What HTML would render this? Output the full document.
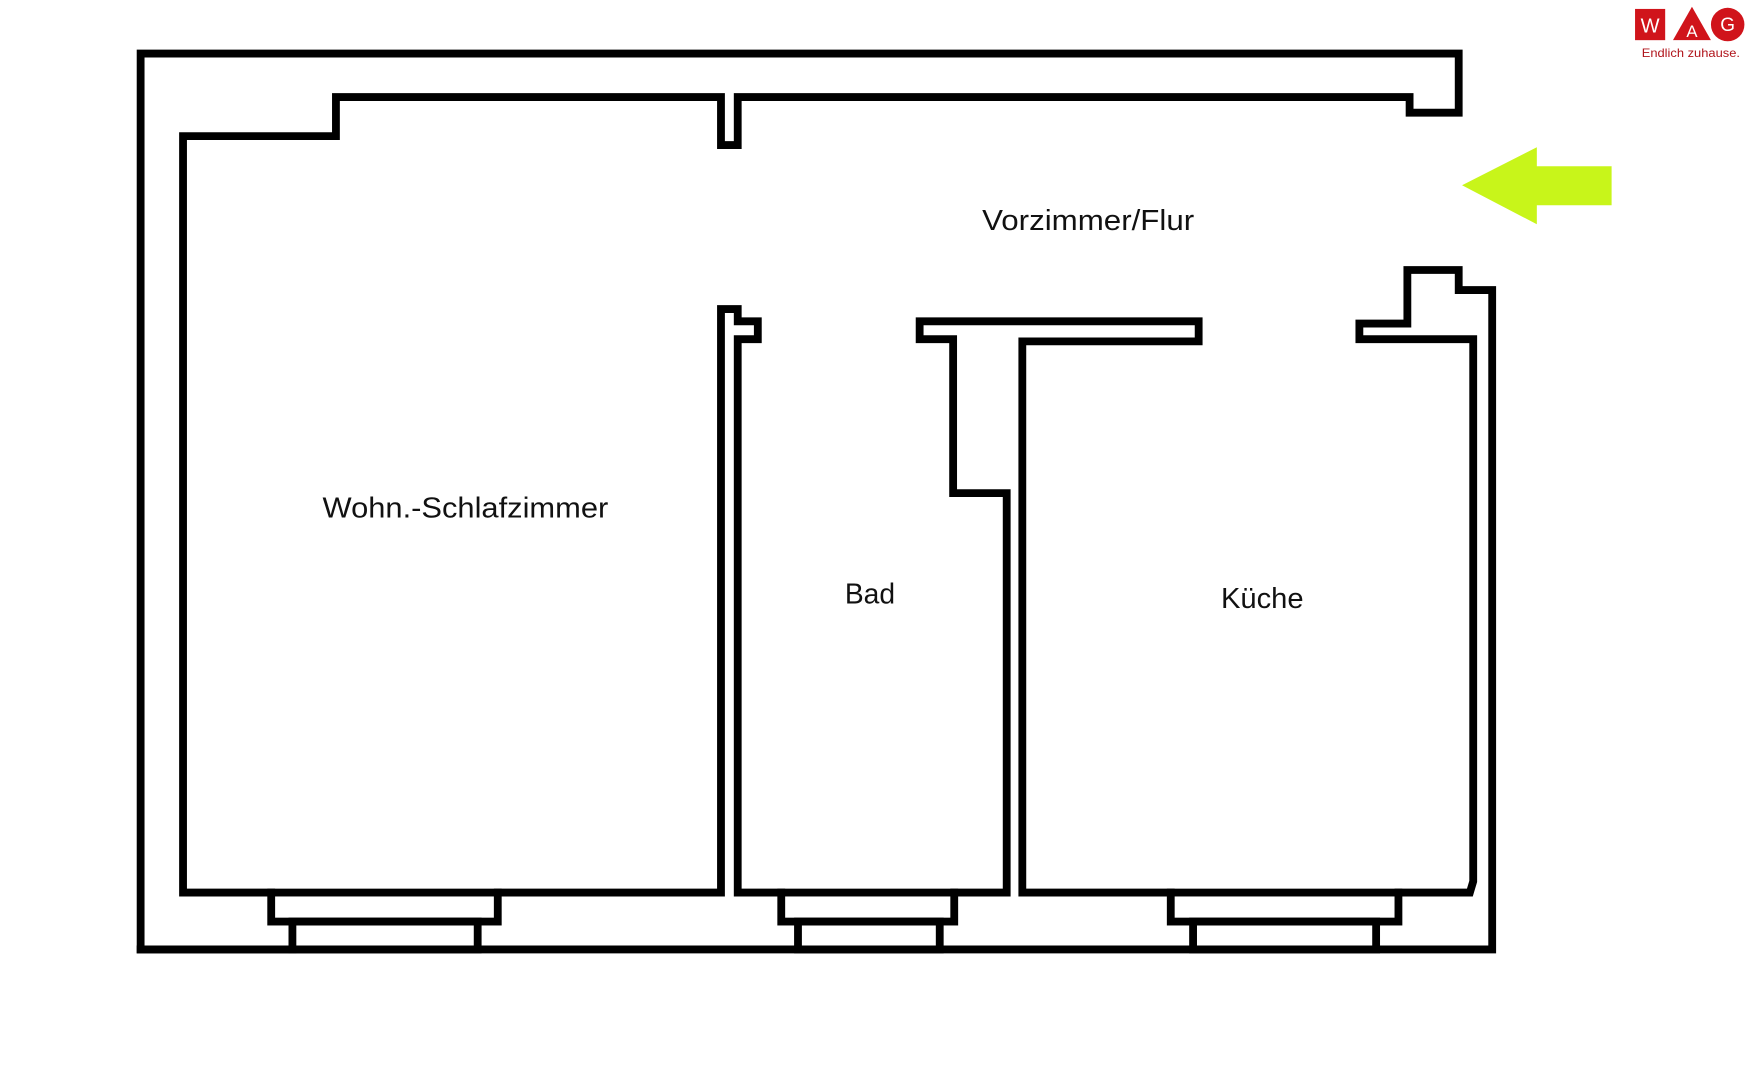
<!DOCTYPE html>
<html><head><meta charset="utf-8"><style>
html,body{margin:0;padding:0;background:#fff;width:1750px;height:1080px;overflow:hidden}
svg{display:block}
text{font-family:"Liberation Sans",sans-serif}
</style></head><body>
<svg width="1750" height="1080" viewBox="0 0 1568 968" preserveAspectRatio="none" xmlns="http://www.w3.org/2000/svg">
<g fill="none" stroke="#000" stroke-width="7" stroke-linejoin="miter" stroke-linecap="square">
<polyline points="262,851 126,851 126,48 1307,48 1307,101 1263,101 1263,87 661,87 661,130 646,130 646,87 301,87 301,122 164,122 164,800 243,800"/>
<polyline points="446,800 646,800 646,277 661,277 661,288 679,288 679,304 661,304 661,800 700,800"/>
<rect x="243" y="800" width="203" height="26"/>
<rect x="262" y="826" width="166" height="25"/>
<rect x="700" y="800" width="155" height="26"/>
<rect x="715" y="826" width="127" height="25"/>
<polyline points="855,800 902,800 902,442 854,442 854,304 824,304 824,288 1074,288 1074,306 916,306 916,800 1049,800"/>
<rect x="1049" y="800" width="204" height="26"/>
<rect x="1069" y="826" width="164" height="25"/>
<polyline points="1253,800 1317,800 1320,790 1320,304 1218,304 1218,290 1261,290 1261,242 1307,242 1307,260 1337,260 1337,851 126,851"/>
</g>
<polygon points="1310,166 1377,132 1377,149 1444,149 1444,184 1377,184 1377,201" fill="#c8f51a"/>
<rect x="1465" y="8" width="27" height="28" fill="#d0141b"/>
<text x="1478.5" y="29" font-size="18" fill="#fff" text-anchor="middle">W</text>
<polygon points="1516,6 1533,36 1499,36" fill="#d0141b"/>
<text x="1516" y="33" font-size="15" fill="#fff" text-anchor="middle">A</text>
<circle cx="1548" cy="22" r="15" fill="#d0141b"/>
<text x="1548" y="28" font-size="17" fill="#fff" text-anchor="middle">G</text>
<text x="1471" y="51" font-size="11" fill="#b0141b" textLength="88" lengthAdjust="spacingAndGlyphs">Endlich zuhause.</text>
<g font-size="26" fill="#111">
<text x="880" y="206" textLength="190" lengthAdjust="spacingAndGlyphs">Vorzimmer/Flur</text>
<text x="289" y="464" textLength="256" lengthAdjust="spacingAndGlyphs">Wohn.-Schlafzimmer</text>
<text x="757" y="541" textLength="45" lengthAdjust="spacingAndGlyphs">Bad</text>
<text x="1094" y="545" textLength="74" lengthAdjust="spacingAndGlyphs">Küche</text>
</g>
</svg>
</body></html>
